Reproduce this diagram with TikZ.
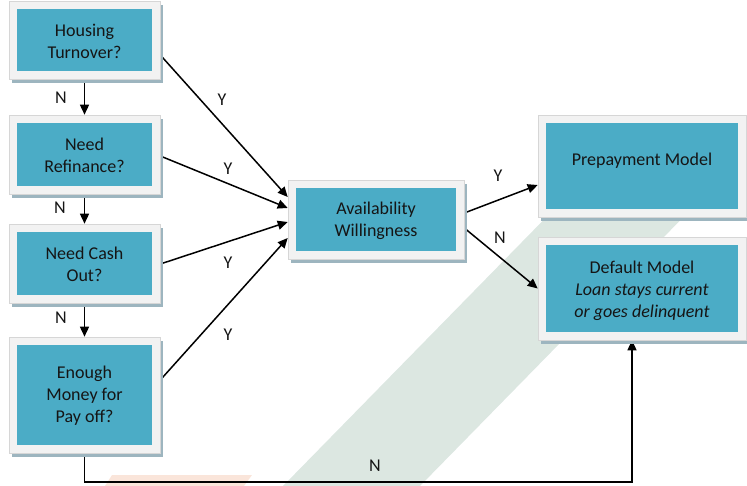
\documentclass[tikz,border=0pt]{standalone}
\usepackage{fontspec}
\setmainfont{Carlito}
\usetikzlibrary{arrows.meta}
\definecolor{teal5}{HTML}{4BACC6}
\definecolor{framec}{HTML}{F2F2F2}
\definecolor{frameline}{HTML}{D6D6D6}
\definecolor{shadowc}{HTML}{9DB5BF}
\definecolor{bandc}{HTML}{DCE7E1}
\definecolor{peach}{HTML}{FAE5DA}
\definecolor{txt}{HTML}{151515}
\tikzset{
  frame/.style={draw=frameline, line width=0.6pt, fill=framec, rectangle, inner sep=0pt},
  tealbox/.style={fill=teal5, rectangle, inner sep=0pt, align=center, text=txt,
    font=\fontsize{18}{22}\selectfont},
  conn/.style={line width=1.5pt, -{Triangle[length=10pt,width=9pt]}},
  lbl/.style={font=\fontsize{18}{22}\selectfont, text=txt, inner sep=0pt}
}
\newcommand\mkbox[7]{% name, cx, cy, w, h, text, text shift
  \fill[shadowc] ({#2-#4/2+3},{#3-#5/2+4}) rectangle ({#2+#4/2+3},{#3+#5/2+4});
  \node[frame, minimum width={(#4)*1pt}, minimum height={(#5)*1pt}] (#1) at (#2,#3) {};
  \node[tealbox, minimum width={(#4-16)*1pt}, minimum height={(#5-16)*1pt}] (#1i) at (#2,#3) {};
  \node[tealbox, fill=none] (#1t) at ([yshift=#7]#1i.center) {#6};
}
\begin{document}
\begin{tikzpicture}[x=1pt,y=-1pt]
\useasboundingbox (0,0) rectangle (747,486);
% background watermark shapes
\fill[bandc] (283,486) -- (420,486) -- (706,194) -- (569,194) -- cycle;
\fill[peach] (105,486) -- (112,475) -- (252,475) -- (244,486) -- cycle;
% nodes (positions only, drawn below after connectors)
\begin{scope}[opacity=0]
\node[frame, minimum width=151pt, minimum height=78pt] (b1) at (84.5,40) {};
\node[frame, minimum width=151pt, minimum height=79pt] (b2) at (84.5,154.5) {};
\node[frame, minimum width=151pt, minimum height=79pt] (b3) at (84.5,263.5) {};
\node[frame, minimum width=151pt, minimum height=116pt] (b4) at (84.5,395) {};
\node[frame, minimum width=176pt, minimum height=79pt] (av) at (376,219.5) {};
\node[frame, minimum width=208pt, minimum height=102pt] (pp) at (642,166) {};
\node[frame, minimum width=208pt, minimum height=103pt] (df) at (642,288.5) {};
\end{scope}
\coordinate (bot) at (632,482);
% connectors
\draw[conn] (b1.south) -- (b2.north);
\draw[conn] (b2.south) -- (b3.north);
\draw[conn] (b3.south) -- (b4.north);
\draw[conn] ([yshift=-15pt]b1.east) -- ([yshift=22.5pt]av.west);
\draw[conn] ([yshift=-1.5pt]b2.east) -- ([yshift=11.5pt]av.west);
\draw[conn] ([yshift=-0.5pt]b3.east) -- ([yshift=-2.5pt]av.west);
\draw[conn] ([yshift=15pt]b4.east) -- ([yshift=-18.5pt]av.west);
\draw[conn] ([yshift=6.5pt]av.east) -- ([yshift=-19pt]pp.west);
\draw[conn] ([yshift=-8.5pt]av.east) -- (df.west);
\draw[conn] (b4.south) |- (bot) -- (bot |- df.south);
% boxes
\mkbox{b1}{84.5}{40}{151}{78}{Housing\\Turnover?}{-1pt}
\mkbox{b2}{84.5}{154.5}{151}{79}{Need\\Refinance?}{-1pt}
\mkbox{b3}{84.5}{263.5}{151}{79}{Need Cash\\Out?}{-1pt}
\mkbox{b4}{84.5}{395}{151}{116}{Enough\\Money for\\Pay off?}{-1pt}
\mkbox{av}{376}{219.5}{176}{79}{Availability\\Willingness}{-1pt}
\mkbox{pp}{642}{166}{208}{102}{Prepayment Model}{5pt}
\mkbox{df}{642}{288.5}{208}{103}{Default Model\\\itshape Loan stays current\\\itshape or goes delinquent}{-2pt}
% labels
\node[lbl] (n1) at (61,98) {N};
\node[lbl] (n2) at (60,208) {N};
\node[lbl] (n3) at (61,318) {N};
\node[lbl] (y1) at (222,100) {Y};
\node[lbl] (y2) at (228,169) {Y};
\node[lbl] (y3) at (228,263) {Y};
\node[lbl] (y4) at (228,335) {Y};
\node[lbl] (y5) at (498,176) {Y};
\node[lbl] (n4) at (500,238) {N};
\node[lbl] (n5) at (375,466) {N};
\end{tikzpicture}
\end{document}
